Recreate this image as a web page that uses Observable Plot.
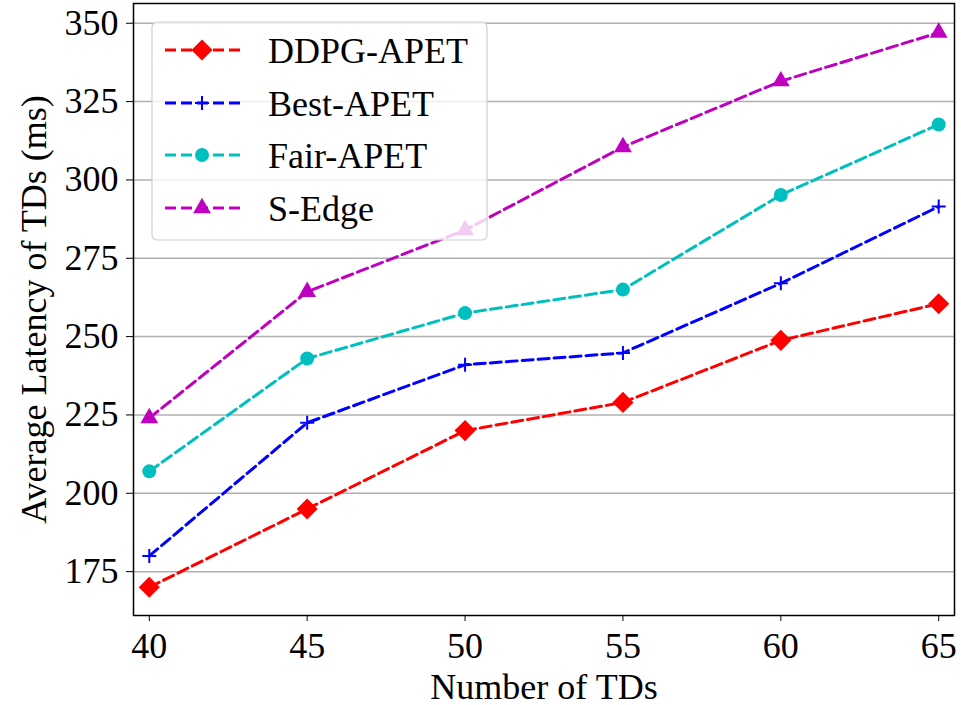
<!DOCTYPE html>
<html>
<head>
<meta charset="utf-8">
<script src="https://cdn.jsdelivr.net/npm/d3@7"></script>
<script src="https://cdn.jsdelivr.net/npm/@observablehq/plot@0.6"></script>
<style>
  html, body { margin: 0; padding: 0; background: white; }
</style>
</head>
<body>
<div id="chart"></div>
<script>
const tds = [40, 45, 50, 55, 60, 65];
const seriesNames = ["DDPG-APET", "Best-APET", "Fair-APET", "S-Edge"];
const seriesColors = ["#ff0000", "#0000ff", "#00bfbf", "#bf00bf"];
const ddpgApet = [170, 195, 220, 229, 248.8, 260.5];
const bestApet = [180, 222.5, 241, 244.8, 267, 291.5];
const fairApet = [207, 243, 257.5, 265, 295.2, 317.7];
const sEdge = [224, 264.3, 284, 310.5, 331.5, 347];
const xTicks = [40, 45, 50, 55, 60, 65];
const yTicks = [175, 200, 225, 250, 275, 300, 325, 350];

const seriesValues = [ddpgApet, bestApet, fairApet, sEdge];
const data = [];
seriesNames.forEach((name, i) => {
  tds.forEach((t, j) => data.push({series: name, x: t, y: seriesValues[i][j]}));
});

const plusSymbol = {
  draw(ctx, size) {
    const r = Math.sqrt(size / Math.PI);
    ctx.moveTo(-r, 0); ctx.lineTo(r, 0);
    ctx.moveTo(0, -r); ctx.lineTo(0, r);
  }
};

const font = "Liberation Serif, Times New Roman, serif";
const fs = 36;
const dash = "11,5";
const lw = 3;

const chart = Plot.plot({
  width: 961,
  height: 705,
  marginLeft: 133,
  marginRight: 7,
  marginTop: 3,
  marginBottom: 90,
  style: {fontFamily: font, fontSize: fs + "px", background: "white", color: "black"},
  x: {domain: [39.5, 65.5]},
  y: {domain: [161, 356.3]},
  color: {domain: seriesNames, range: seriesColors},
  marks: [
    Plot.gridY({ticks: yTicks, stroke: "#b0b0b0", strokeOpacity: 1, strokeWidth: 1.5}),
    Plot.line(data, {x: "x", y: "y", z: "series", stroke: "series", strokeWidth: lw, strokeDasharray: dash}),
    Plot.dot(data.filter(d => d.series === "DDPG-APET"), {x: "x", y: "y", symbol: "diamond2", r: 9.5, fill: seriesColors[0], stroke: "none"}),
    Plot.dot(data.filter(d => d.series === "Best-APET"), {x: "x", y: "y", symbol: plusSymbol, r: 7, fill: "none", stroke: seriesColors[1], strokeWidth: 2}),
    Plot.dot(data.filter(d => d.series === "Fair-APET"), {x: "x", y: "y", symbol: "circle", r: 7, fill: seriesColors[2], stroke: "none"}),
    Plot.dot(data.filter(d => d.series === "S-Edge"), {x: "x", y: "y", symbol: "triangle2", r: 8.5, fill: seriesColors[3], stroke: "none"}),
    Plot.frame({stroke: "black", strokeWidth: 1.5}),
    Plot.axisX({ticks: xTicks, tickSize: 6, tickPadding: 11, fontSize: fs, tickFormat: d => String(d),
      label: "Number of TDs", labelAnchor: "center", labelArrow: "none", labelOffset: 83}),
    Plot.axisY({ticks: yTicks, tickSize: 7, tickPadding: 8, fontSize: fs, tickFormat: d => String(d),
      label: "Average Latency of TDs (ms)", labelAnchor: "center", labelArrow: "none", labelOffset: 113})
  ]
});

document.getElementById("chart").appendChild(chart);

// Legend (inside plot, upper left)
const svg = d3.select(chart);
const lg = svg.append("g").attr("class", "legend");
lg.append("rect")
  .attr("x", 152).attr("y", 22).attr("width", 335).attr("height", 218)
  .attr("rx", 5).attr("ry", 5)
  .attr("fill", "white").attr("fill-opacity", 0.8)
  .attr("stroke", "#d0d0d0").attr("stroke-width", 1.2);
const rowY = [50, 103, 155, 208];
const legendSymbols = [
  {type: d3.symbolDiamond2, r: 9.5, fill: true},
  {type: plusSymbol, r: 7, fill: false},
  {type: d3.symbolCircle, r: 7, fill: true},
  {type: d3.symbolTriangle2, r: 8.5, fill: true}
];
seriesNames.forEach((name, i) => {
  const y = rowY[i];
  const c = seriesColors[i];
  lg.append("line").attr("x1", 165).attr("x2", 240).attr("y1", y).attr("y2", y)
    .attr("stroke", c).attr("stroke-width", lw).attr("stroke-dasharray", dash);
  const s = legendSymbols[i];
  const path = d3.symbol(s.type, Math.PI * s.r * s.r)();
  lg.append("path").attr("d", path).attr("transform", `translate(202,${y})`)
    .attr("fill", s.fill ? c : "none").attr("stroke", s.fill ? "none" : c).attr("stroke-width", 2);
  lg.append("text").attr("x", 268).attr("y", y).attr("dy", "0.35em")
    .attr("text-anchor", "start")
    .attr("font-family", font).attr("font-size", fs).attr("fill", "black")
    .text(name);
});
</script>
</body>
</html>
